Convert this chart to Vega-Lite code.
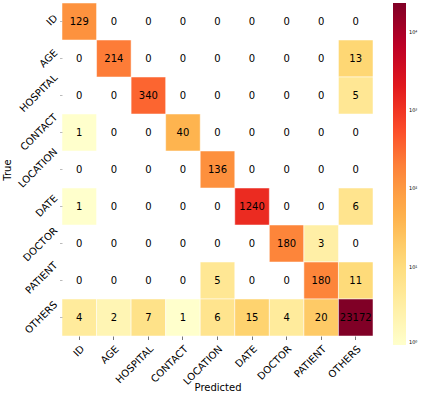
{
  "$schema": "https://vega.github.io/schema/vega-lite/v6.json",
  "autosize": {"type": "none"},
  "padding": {"left": 62, "top": 3, "right": 53, "bottom": 62},
  "width": 311,
  "height": 333,
  "background": "white",
  "config": {"view": {"stroke": null}, "font": "DejaVu Sans"},
  "data": {"values": [
    {"t":"ID","p":"ID","v":129},{"t":"ID","p":"AGE","v":0},{"t":"ID","p":"HOSPITAL","v":0},{"t":"ID","p":"CONTACT","v":0},{"t":"ID","p":"LOCATION","v":0},{"t":"ID","p":"DATE","v":0},{"t":"ID","p":"DOCTOR","v":0},{"t":"ID","p":"PATIENT","v":0},{"t":"ID","p":"OTHERS","v":0},
    {"t":"AGE","p":"ID","v":0},{"t":"AGE","p":"AGE","v":214},{"t":"AGE","p":"HOSPITAL","v":0},{"t":"AGE","p":"CONTACT","v":0},{"t":"AGE","p":"LOCATION","v":0},{"t":"AGE","p":"DATE","v":0},{"t":"AGE","p":"DOCTOR","v":0},{"t":"AGE","p":"PATIENT","v":0},{"t":"AGE","p":"OTHERS","v":13},
    {"t":"HOSPITAL","p":"ID","v":0},{"t":"HOSPITAL","p":"AGE","v":0},{"t":"HOSPITAL","p":"HOSPITAL","v":340},{"t":"HOSPITAL","p":"CONTACT","v":0},{"t":"HOSPITAL","p":"LOCATION","v":0},{"t":"HOSPITAL","p":"DATE","v":0},{"t":"HOSPITAL","p":"DOCTOR","v":0},{"t":"HOSPITAL","p":"PATIENT","v":0},{"t":"HOSPITAL","p":"OTHERS","v":5},
    {"t":"CONTACT","p":"ID","v":1},{"t":"CONTACT","p":"AGE","v":0},{"t":"CONTACT","p":"HOSPITAL","v":0},{"t":"CONTACT","p":"CONTACT","v":40},{"t":"CONTACT","p":"LOCATION","v":0},{"t":"CONTACT","p":"DATE","v":0},{"t":"CONTACT","p":"DOCTOR","v":0},{"t":"CONTACT","p":"PATIENT","v":0},{"t":"CONTACT","p":"OTHERS","v":0},
    {"t":"LOCATION","p":"ID","v":0},{"t":"LOCATION","p":"AGE","v":0},{"t":"LOCATION","p":"HOSPITAL","v":0},{"t":"LOCATION","p":"CONTACT","v":0},{"t":"LOCATION","p":"LOCATION","v":136},{"t":"LOCATION","p":"DATE","v":0},{"t":"LOCATION","p":"DOCTOR","v":0},{"t":"LOCATION","p":"PATIENT","v":0},{"t":"LOCATION","p":"OTHERS","v":0},
    {"t":"DATE","p":"ID","v":1},{"t":"DATE","p":"AGE","v":0},{"t":"DATE","p":"HOSPITAL","v":0},{"t":"DATE","p":"CONTACT","v":0},{"t":"DATE","p":"LOCATION","v":0},{"t":"DATE","p":"DATE","v":1240},{"t":"DATE","p":"DOCTOR","v":0},{"t":"DATE","p":"PATIENT","v":0},{"t":"DATE","p":"OTHERS","v":6},
    {"t":"DOCTOR","p":"ID","v":0},{"t":"DOCTOR","p":"AGE","v":0},{"t":"DOCTOR","p":"HOSPITAL","v":0},{"t":"DOCTOR","p":"CONTACT","v":0},{"t":"DOCTOR","p":"LOCATION","v":0},{"t":"DOCTOR","p":"DATE","v":0},{"t":"DOCTOR","p":"DOCTOR","v":180},{"t":"DOCTOR","p":"PATIENT","v":3},{"t":"DOCTOR","p":"OTHERS","v":0},
    {"t":"PATIENT","p":"ID","v":0},{"t":"PATIENT","p":"AGE","v":0},{"t":"PATIENT","p":"HOSPITAL","v":0},{"t":"PATIENT","p":"CONTACT","v":0},{"t":"PATIENT","p":"LOCATION","v":5},{"t":"PATIENT","p":"DATE","v":0},{"t":"PATIENT","p":"DOCTOR","v":0},{"t":"PATIENT","p":"PATIENT","v":180},{"t":"PATIENT","p":"OTHERS","v":11},
    {"t":"OTHERS","p":"ID","v":4},{"t":"OTHERS","p":"AGE","v":2},{"t":"OTHERS","p":"HOSPITAL","v":7},{"t":"OTHERS","p":"CONTACT","v":1},{"t":"OTHERS","p":"LOCATION","v":6},{"t":"OTHERS","p":"DATE","v":15},{"t":"OTHERS","p":"DOCTOR","v":4},{"t":"OTHERS","p":"PATIENT","v":20},{"t":"OTHERS","p":"OTHERS","v":23172}
  ]},
  "encoding": {
    "x": {"field": "p", "type": "nominal", "sort": ["ID","AGE","HOSPITAL","CONTACT","LOCATION","DATE","DOCTOR","PATIENT","OTHERS"],
      "scale": {"paddingInner": 0, "paddingOuter": 0},
      "axis": {"title": "Predicted", "titleFont": "DejaVu Sans", "titleFontSize": 10, "titleFontWeight": "normal", "titleColor": "black",
        "titleY": 46, "titleBaseline": "top",
        "labelAngle": -45, "labelAlign": "right", "labelBaseline": "top", "labelFont": "DejaVu Sans", "labelFontSize": 10, "labelColor": "black", "labelPadding": 4,
        "domain": false, "tickSize": 3.5, "tickColor": "#555", "tickWidth": 0.8}},
    "y": {"field": "t", "type": "nominal", "sort": ["ID","AGE","HOSPITAL","CONTACT","LOCATION","DATE","DOCTOR","PATIENT","OTHERS"],
      "scale": {"paddingInner": 0, "paddingOuter": 0},
      "axis": {"title": "True", "titleFont": "DejaVu Sans", "titleFontSize": 10, "titleFontWeight": "normal", "titleColor": "black", "titlePadding": 4,
        "labelAngle": -45, "labelAlign": "right", "labelBaseline": "middle", "labelFont": "DejaVu Sans", "labelFontSize": 10, "labelColor": "black", "labelPadding": 4,
        "labelOffset": {"expr": "-length(datum.value) * 2.4"},
        "domain": false, "tickSize": 2.5, "tickColor": "#aaa", "tickWidth": 0.8}}
  },
  "layer": [
    {
      "transform": [{"filter": "datum.v > 0"}],
      "mark": {"type": "rect", "stroke": "white", "strokeWidth": 0.5},
      "encoding": {
        "color": {"field": "v", "type": "quantitative",
          "scale": {"type": "log", "domain": [1, 23172], "interpolate": "rgb",
            "range": ["#ffffcc", "#ffeda0", "#fed976", "#feb24c", "#fd8d3c", "#fc4e2a", "#e31a1c", "#bd0026", "#800026"]},
          "legend": {"title": null, "orient": "right", "offset": 20, "gradientLength": 342, "gradientThickness": 13, "gradientStrokeWidth": 0,
            "values": [1, 10, 100, 1000, 10000], "labelFontSize": 5, "labelFont": "DejaVu Sans", "labelColor": "black", "labelOffset": 3,
            "labelExpr": "datum.value == 1 ? '10⁰' : datum.value == 10 ? '10¹' : datum.value == 100 ? '10²' : datum.value == 1000 ? '10³' : '10⁴'"}}
      }
    },
    {
      "mark": {"type": "text", "font": "DejaVu Sans", "fontSize": 10, "color": "black"},
      "encoding": {"text": {"field": "v", "type": "quantitative", "format": "d"}}
    }
  ]
}
